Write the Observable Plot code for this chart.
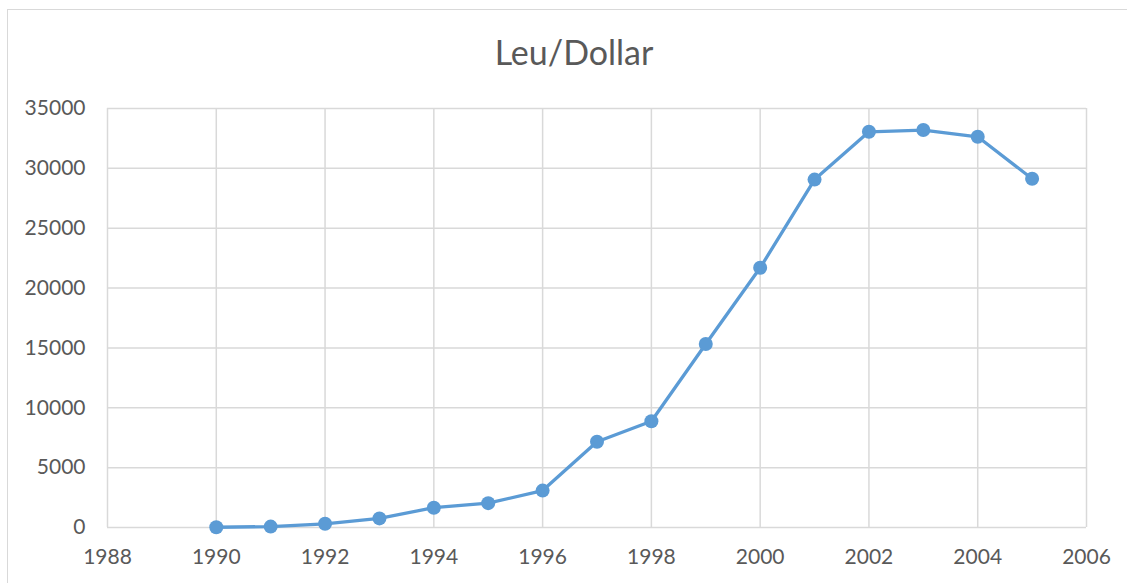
<!DOCTYPE html>
<html>
<head>
<meta charset="utf-8">
<script src="https://cdn.jsdelivr.net/npm/d3@7"></script>
<script src="https://cdn.jsdelivr.net/npm/@observablehq/plot@0.6"></script>
<style>
  html, body { margin: 0; padding: 0; background: #fff; overflow: hidden; }
  #wrap { position: relative; width: 1127px; height: 583px; }
  #border { position: absolute; left: 7px; top: 9px; width: 1200px; height: 700px;
            border: 1.5px solid #d9d9d9; box-sizing: border-box; pointer-events: none; }
</style>
</head>
<body>
<div id="wrap"><div id="border"></div></div>
<script>
const title = "Leu/Dollar";
const years = [1990, 1991, 1992, 1993, 1994, 1995, 1996, 1997, 1998, 1999, 2000, 2001, 2002, 2003, 2004, 2005];
const rates = [22, 76, 308, 760, 1655, 2033, 3084, 7168, 8875, 15333, 21693, 29061, 33055, 33200, 32637, 29137];
const xTicks = [1988, 1990, 1992, 1994, 1996, 1998, 2000, 2002, 2004, 2006];
const yTicks = [0, 5000, 10000, 15000, 20000, 25000, 30000, 35000];

const data = years.map((y, i) => ({year: y, rate: rates[i]}));
const color = "#5b9bd5";
const grid = "#d9d9d9";

const chart = Plot.plot({
  width: 1127,
  height: 583,
  marginLeft: 107,
  marginRight: 41,
  marginTop: 108,
  marginBottom: 56,
  style: {fontFamily: "Lato, 'Open Sans', sans-serif", fontSize: "21px", color: "#595959", background: "transparent"},
  x: {domain: [1988, 2006], ticks: xTicks, tickFormat: d => String(d), label: null},
  y: {domain: [0, 35000], ticks: yTicks, tickFormat: d => String(d), label: null},
  marks: [
    Plot.ruleX(xTicks, {stroke: grid, strokeWidth: 1.5, strokeOpacity: 1}),
    Plot.ruleY(yTicks, {stroke: grid, strokeWidth: 1.5, strokeOpacity: 1}),
    Plot.axisX({ticks: xTicks, tickFormat: d => String(d), tickSize: 0, tickPadding: 22, label: null, fill: "#595959"}),
    Plot.axisY({ticks: yTicks, tickFormat: d => String(d), tickSize: 0, tickPadding: 22, label: null, fill: "#595959"}),
    Plot.line(data, {x: "year", y: "rate", stroke: color, strokeWidth: 3.3}),
    Plot.dot(data, {x: "year", y: "rate", fill: color, r: 7}),
    Plot.text([title], {frameAnchor: "top", dx: -23, dy: -54, lineAnchor: "middle", fontSize: 34, fill: "#595959", text: d => d})
  ]
});
document.getElementById("wrap").prepend(chart);
chart.style.position = "absolute";
chart.style.left = "0";
chart.style.top = "0";
</script>
</body>
</html>
